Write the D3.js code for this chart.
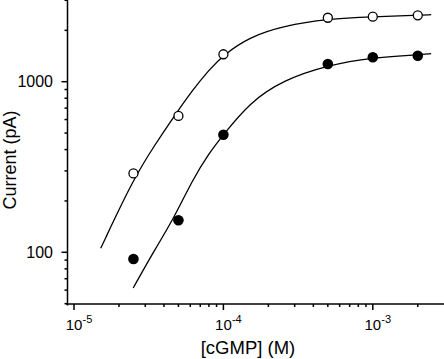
<!DOCTYPE html>
<html>
<head>
<meta charset="utf-8">
<script src="https://cdn.jsdelivr.net/npm/d3@7"></script>
<style>
  html, body { margin: 0; padding: 0; background: #fff; }
  svg { display: block; }
  text { font-family: "Liberation Sans", Arial, sans-serif; fill: #000; }
</style>
</head>
<body>
<svg id="chart" width="444" height="359"></svg>
<script>
// ---- data ----
const concentrations = [2.5e-5, 5e-5, 1e-4, 5e-4, 1e-3, 2e-3];
const openValues   = [290, 630, 1448, 2371, 2404, 2449];
const filledValues = [91.4, 154, 489, 1270, 1390, 1420];

// fitted curves
const openFitX = [1.51e-5, 2.5e-5, 3.5e-5, 4.7e-5, 6.2e-5, 8e-5, 1e-4, 1.5e-4, 2.5e-4, 5e-4, 1e-3, 2e-3, 2.46e-3];
const openFitY = [105.6, 270, 430, 630, 890, 1170, 1434, 1830, 2120, 2335, 2400, 2450, 2471];
const filledFitX = [2.49e-5, 3.5e-5, 4.6e-5, 6.2e-5, 8e-5, 1e-4, 1.5e-4, 2.5e-4, 5e-4, 1e-3, 2e-3, 2.46e-3];
const filledFitY = [61.8, 105, 155, 265, 380, 489, 755, 1020, 1250, 1385, 1435, 1459];

const xMajorTicks = [1e-5, 1e-4, 1e-3];
const xTickExponents = ["-5", "-4", "-3"];
const yMajorTicks = [100, 1000];
const yTickLabels = ["100", "1000"];
const xLabel = "[cGMP] (M)";
const yLabel = "Current (pA)";

(function () {
// ---- layout ----
const svg = d3.select("#chart");
const pLeft = 67.5, pRight = 444, pTop = 0, pBottom = 304;

const x = d3.scaleLog().domain([1e-5, 1e-3]).range([74, 372.8]);
const y = d3.scaleLog().domain([100, 1000]).range([252.3, 81.7]);
const xDomainMin = x.invert(pLeft), xDomainMax = x.invert(pRight);
const yDomainMin = y.invert(pBottom);

// minor ticks
const xMinor = [];
for (let e = -6; e <= -3; e++) for (let m = 2; m <= 9; m++) {
  const v = m * Math.pow(10, e);
  if (v > xDomainMin && v < xDomainMax) xMinor.push(v);
}
const yMinor = [];
for (let e = 1; e <= 3; e++) for (let m = 2; m <= 9; m++) {
  const v = m * Math.pow(10, e);
  if (v > yDomainMin && v <= 3000) yMinor.push(v);
}

const axes = svg.append("g").attr("stroke", "#000").attr("stroke-width", 1.5).attr("fill", "none");
// axis lines
axes.append("line").attr("x1", pLeft).attr("x2", pLeft).attr("y1", pTop).attr("y2", pBottom + 1.5);
axes.append("line").attr("x1", pLeft - 1.5).attr("x2", pRight).attr("y1", pBottom).attr("y2", pBottom);

// y ticks (outward, left)
axes.selectAll(".ymaj").data(yMajorTicks).join("line")
  .attr("x1", pLeft - 6).attr("x2", pLeft).attr("y1", d => y(d)).attr("y2", d => y(d));
axes.selectAll(".ymin").data(yMinor).join("line")
  .attr("x1", pLeft - 3).attr("x2", pLeft).attr("y1", d => y(d)).attr("y2", d => y(d));
// x ticks (outward, down)
axes.selectAll(".xmaj").data(xMajorTicks).join("line")
  .attr("x1", d => x(d)).attr("x2", d => x(d)).attr("y1", pBottom).attr("y2", pBottom + 6);
axes.selectAll(".xmin").data(xMinor).join("line")
  .attr("x1", d => x(d)).attr("x2", d => x(d)).attr("y1", pBottom).attr("y2", pBottom + 3);

// y tick labels
svg.selectAll(".ylab").data(yMajorTicks).join("text")
  .attr("x", 53).attr("y", d => y(d)).attr("dy", "0.36em")
  .attr("text-anchor", "end").attr("font-size", 16)
  .text((d, i) => yTickLabels[i]);

// x tick labels: 10 with superscript
const xl = svg.selectAll(".xlab").data(xMajorTicks).join("g");
xl.append("text").attr("x", d => x(d)).attr("y", 330)
  .attr("text-anchor", "middle").attr("font-size", 15).text("10");
xl.append("text").attr("x", d => x(d) + 8.5).attr("y", 323)
  .attr("text-anchor", "start").attr("font-size", 11)
  .text((d, i) => xTickExponents[i]);

// axis titles
svg.append("text").attr("x", 248).attr("y", 354)
  .attr("text-anchor", "middle").attr("font-size", 18.5).text(xLabel);
svg.append("text").attr("transform", "translate(15.5,160) rotate(-90)")
  .attr("text-anchor", "middle").attr("font-size", 18).text(yLabel);

// fitted curves
const line = d3.line().x(d => x(d[0])).y(d => y(d[1])).curve(d3.curveBasis);
svg.append("path").datum(d3.zip(openFitX, openFitY))
  .attr("d", line).attr("fill", "none").attr("stroke", "#000").attr("stroke-width", 1.3);
svg.append("path").datum(d3.zip(filledFitX, filledFitY))
  .attr("d", line).attr("fill", "none").attr("stroke", "#000").attr("stroke-width", 1.3);

// markers
svg.selectAll(".open").data(d3.zip(concentrations, openValues)).join("circle")
  .attr("cx", d => x(d[0])).attr("cy", d => y(d[1])).attr("r", 4.5)
  .attr("fill", "#fff").attr("stroke", "#000").attr("stroke-width", 1.3);
svg.selectAll(".filled").data(d3.zip(concentrations, filledValues)).join("circle")
  .attr("cx", d => x(d[0])).attr("cy", d => y(d[1])).attr("r", 5.3)
  .attr("fill", "#000");
})();
</script>
</body>
</html>
